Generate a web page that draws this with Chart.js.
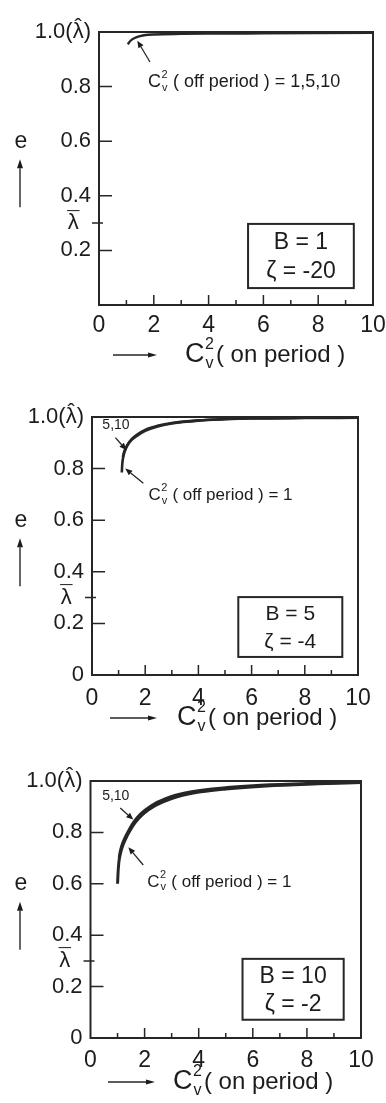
<!DOCTYPE html>
<html>
<head>
<meta charset="utf-8">
<script src="https://cdn.jsdelivr.net/npm/chart.js@4.4.1/dist/chart.umd.min.js"></script>
<style>
  html, body { margin: 0; padding: 0; background: #ffffff; }
  #wrap { position: relative; width: 386px; height: 1103px; overflow: hidden; background: #ffffff; }
  canvas { position: absolute; left: 0; }
</style>
</head>
<body>
<div id="wrap">
  <canvas id="p1" width="386" height="368" style="top:0px"></canvas>
  <canvas id="p2" width="386" height="368" style="top:368px"></canvas>
  <canvas id="p3" width="386" height="368" style="top:735px"></canvas>
</div>
<script>
// ---------- axis ticks ----------
const xTickValues = [0, 2, 4, 6, 8, 10];
const xMinorTickValues = [1, 2, 3, 4, 5, 6, 7, 8, 9];
const lambdaBar = 0.3;   // mean rate, drawn as λ with a bar
const lambdaHat = 1.0;   // peak rate, drawn as λ with a hat
const yTicksFirst = [0.2, 0.3, 0.4, 0.6, 0.8, 1.0];
const yTicksFirstText = ['0.2', 'λ  ', '0.4', '0.6', '0.8', '1.0(λ)'];
const yTicksRest = [0, 0.2, 0.3, 0.4, 0.6, 0.8, 1.0];
const yTicksRestText = ['0', '0.2', 'λ  ', '0.4', '0.6', '0.8', '1.0(λ)'];

// ---------- model parameters ----------
const burstB = [1, 5, 10];
const zetaValues = [-20, -4, -2];

// ---------- efficiency e vs C_v^2 (on period) ----------
// B = 1, zeta = -20 : C_v^2 (off period) = 1, 5, 10 fall on one curve
const b1CvOn = [1.05, 1.15, 1.3, 1.5, 1.7, 2.0, 3.0, 4.0, 6.0, 8.0, 10.0];
const b1Eff  = [0.955, 0.968, 0.978, 0.985, 0.989, 0.991, 0.993, 0.994, 0.995, 0.996, 0.997];

// B = 5, zeta = -4
const b5Off1CvOn   = [1.12, 1.14, 1.18, 1.25, 1.35, 1.5, 1.7, 2.0, 2.5, 3.0, 4.0, 5.0, 6.0, 8.0, 10.0];
const b5Off1Eff    = [0.785, 0.82, 0.848, 0.872, 0.893, 0.912, 0.928, 0.946, 0.964, 0.975, 0.986, 0.991, 0.994, 0.996, 0.997];
const b5Off510CvOn = [1.16, 1.2, 1.27, 1.37, 1.5, 1.7, 2.0, 2.5, 3.0, 4.0, 5.0, 6.0, 8.0, 10.0];
const b5Off510Eff  = [0.845, 0.862, 0.88, 0.898, 0.915, 0.932, 0.95, 0.967, 0.977, 0.987, 0.992, 0.995, 0.997, 0.998];

// B = 10, zeta = -2
const b10Off1CvOn   = [1.0, 1.02, 1.05, 1.1, 1.18, 1.3, 1.45, 1.65, 1.95, 2.4, 3.0, 3.8, 5.0, 6.5, 8.4, 10.0];
const b10Off1Eff    = [0.6, 0.645, 0.685, 0.715, 0.745, 0.775, 0.805, 0.838, 0.872, 0.905, 0.932, 0.953, 0.969, 0.981, 0.989, 0.994];
const b10Off510CvOn = [1.06, 1.1, 1.17, 1.27, 1.4, 1.58, 1.85, 2.25, 2.8, 3.5, 4.5, 6.0, 8.0, 10.0];
const b10Off510Eff  = [0.7, 0.725, 0.752, 0.778, 0.805, 0.837, 0.871, 0.904, 0.932, 0.953, 0.969, 0.982, 0.99, 0.996];

// ---------- styling ----------
const FONT = '"Liberation Sans", Arial, Helvetica, sans-serif';
const INK = '#1c1c1c';
const LINE = '#262626';
const Y_FONT = 22, Y_PAD = 8;

// per-panel layout: plot area in canvas pixels and decorations
const panels = {
  p1: {
    area: { left: 99, top: 32, right: 373, bottom: 305 }, xPad: 7,
    yTicks: yTicksFirst, yText: yTicksFirstText,
    series: [{ x: b1CvOn, y: b1Eff, w: 2.4 }],
    callouts: [
      { cv: true, text: '( off period ) = 1,5,10', at: [1.79, 0.817], size: 18, sub: 11, tail: [1.86, 0.89], tip: [1.4, 0.968] }
    ],
    box: { x0: 5.44, y0: 0.297, x1: 9.3, y1: 0.062, size: 23, lines: ['B = ' + burstB[0], 'ζ = ' + zetaValues[0]] },
    title: { ax0: 113, ax1: 157, cx: 185, y: 355 }
  },
  p2: {
    area: { left: 92, top: 49, right: 358, bottom: 307 }, xPad: 10,
    yTicks: yTicksRest, yText: yTicksRestText,
    series: [{ x: b5Off1CvOn, y: b5Off1Eff, w: 2.6 }, { x: b5Off510CvOn, y: b5Off510Eff, w: 2.6 }],
    callouts: [
      { cv: false, text: '5,10', at: [0.39, 0.968], size: 14, tail: [0.88, 0.92], tip: [1.29, 0.872] },
      { cv: true, text: '( off period ) = 1', at: [2.12, 0.697], size: 17, sub: 11, tail: [1.93, 0.743], tip: [1.25, 0.8] }
    ],
    box: { x0: 5.5, y0: 0.302, x1: 9.41, y1: 0.07, size: 21, lines: ['B = ' + burstB[1], 'ζ = ' + zetaValues[1]] },
    title: { ax0: 110, ax1: 157, cx: 177, y: 350 }
  },
  p3: {
    area: { left: 90.5, top: 46, right: 361, bottom: 303 }, xPad: 9,
    yTicks: yTicksRest, yText: yTicksRestText,
    series: [{ x: b10Off1CvOn, y: b10Off1Eff, w: 3 }, { x: b10Off510CvOn, y: b10Off510Eff, w: 3 }],
    callouts: [
      { cv: false, text: '5,10', at: [0.43, 0.94], size: 14, tail: [1.1, 0.895], tip: [1.58, 0.85] },
      { cv: true, text: '( off period ) = 1', at: [2.1, 0.607], size: 17, sub: 11, tail: [1.95, 0.673], tip: [1.4, 0.742] }
    ],
    box: { x0: 5.62, y0: 0.308, x1: 9.36, y1: 0.071, size: 23, lines: ['B = ' + burstB[2], 'ζ = ' + zetaValues[2]] },
    title: { ax0: 108, ax1: 155, cx: 173, y: 347 }
  }
};

// "C" with superscript 2 and subscript v; returns the x where following text starts
function drawCv(ctx, x, ym, size, sub) {
  ctx.textAlign = 'left';
  ctx.textBaseline = 'middle';
  ctx.font = size + 'px ' + FONT;
  ctx.fillText('C', x, ym);
  const cw = ctx.measureText('C').width;
  ctx.font = sub + 'px ' + FONT;
  ctx.fillText('2', x + cw + 0.5, ym - size * 0.4);
  ctx.fillText('v', x + cw + 1, ym + size * 0.32);
  return x + cw + 0.5 + ctx.measureText('2').width;
}

function arrow(ctx, x0, y0, x1, y1, head, width) {
  const ang = Math.atan2(y1 - y0, x1 - x0);
  const bx = x1 - head * Math.cos(ang), by = y1 - head * Math.sin(ang);
  ctx.beginPath();
  ctx.moveTo(x0, y0);
  ctx.lineTo(bx, by);
  ctx.stroke();
  ctx.beginPath();
  ctx.moveTo(x1, y1);
  ctx.lineTo(bx + width * Math.sin(ang), by - width * Math.cos(ang));
  ctx.lineTo(bx - width * Math.sin(ang), by + width * Math.cos(ang));
  ctx.closePath();
  ctx.fill();
}

const panelDecor = {
  id: 'panelDecor',
  afterDraw(chart) {
    const d = panels[chart.canvas.id];
    const { ctx, chartArea: a } = chart;
    const xs = chart.scales.x, ys = chart.scales.y;
    const px = v => xs.getPixelForValue(v), py = v => ys.getPixelForValue(v);
    ctx.save();
    ctx.strokeStyle = LINE;
    ctx.fillStyle = INK;
    ctx.lineCap = 'butt';

    // frame
    ctx.lineWidth = 2;
    ctx.strokeRect(a.left, a.top, a.right - a.left, a.bottom - a.top);

    // inward tick marks
    ctx.lineWidth = 1.5;
    ctx.beginPath();
    xMinorTickValues.forEach(v => {
      const x = px(v), len = v % 2 === 0 ? 10 : 5;
      ctx.moveTo(x, a.bottom);
      ctx.lineTo(x, a.bottom - len);
    });
    d.yTicks.forEach(v => {
      if (v <= 0 || v >= 1) return;
      const y = py(v);
      if (v === lambdaBar) { ctx.moveTo(a.left - 7, y); ctx.lineTo(a.left + 4, y); }
      else { ctx.moveTo(a.left, y); ctx.lineTo(a.left + 13, y); }
    });
    ctx.stroke();

    // accents on the λ tick labels: bar over the mean, hat over the peak
    ctx.font = Y_FONT + 'px ' + FONT;
    ctx.textAlign = 'center';
    ctx.textBaseline = 'middle';
    const lw = ctx.measureText('λ').width;
    const barX = a.left - Y_PAD - ctx.measureText('  ').width - lw / 2;
    ctx.fillText('¯', barX, py(lambdaBar) - Y_FONT * 0.12);
    const hatX = a.left - Y_PAD - ctx.measureText(')').width - lw / 2;
    ctx.fillText('ˆ', hatX, py(lambdaHat) - Y_FONT * 0.2);

    // callouts with arrows
    ctx.lineWidth = 1.3;
    d.callouts.forEach(c => {
      arrow(ctx, px(c.tail[0]), py(c.tail[1]), px(c.tip[0]), py(c.tip[1]), 7, 3);
      let tx = px(c.at[0]);
      const ty = py(c.at[1]);
      if (c.cv) tx = drawCv(ctx, tx, ty, c.size, c.sub) + c.size * 0.3;
      ctx.font = c.size + 'px ' + FONT;
      ctx.textAlign = 'left';
      ctx.textBaseline = 'middle';
      ctx.fillText(c.text, tx, ty);
    });

    // parameter box
    const b = d.box;
    const bx0 = px(b.x0), by0 = py(b.y0), bx1 = px(b.x1), by1 = py(b.y1);
    ctx.lineWidth = 2;
    ctx.strokeRect(bx0, by0, bx1 - bx0, by1 - by0);
    ctx.font = b.size + 'px ' + FONT;
    ctx.textAlign = 'center';
    ctx.textBaseline = 'middle';
    const bh = by1 - by0, bc = (bx0 + bx1) / 2;
    ctx.fillText(b.lines[0], bc, by0 + bh * 0.29);
    ctx.fillText(b.lines[1], bc, by0 + bh * 0.75);

    // y axis title: e with an upward arrow
    const ey = py(0.6);
    ctx.font = '23px ' + FONT;
    ctx.textAlign = 'center';
    ctx.fillText('e', 21, ey);
    ctx.lineWidth = 1.4;
    arrow(ctx, 20, ey + 66, 20, ey + 18, 9, 3);

    // x axis title: arrow and C_v^2 ( on period )
    const t = d.title;
    arrow(ctx, t.ax0, t.y, t.ax1, t.y, 9, 2.6);
    const nx = drawCv(ctx, t.cx, t.y, 27, 16);
    ctx.font = '24px ' + FONT;
    ctx.textAlign = 'left';
    ctx.fillText('( on period )', nx + 2, t.y);

    ctx.restore();
  }
};

function makePanel(id) {
  const d = panels[id];
  const H = 368, W = 386;
  return new Chart(document.getElementById(id), {
    type: 'scatter',
    data: {
      datasets: d.series.map(s => ({
        data: s.x.map((x, i) => ({ x: x, y: s.y[i] })),
        showLine: true,
        borderColor: LINE,
        borderWidth: s.w,
        pointRadius: 0,
        cubicInterpolationMode: 'monotone',
        fill: false
      }))
    },
    options: {
      responsive: false,
      animation: false,
      devicePixelRatio: 1,
      layout: { padding: { left: 0, top: d.area.top, right: W - d.area.right, bottom: 0 } },
      plugins: { legend: { display: false }, tooltip: { enabled: false } },
      scales: {
        x: {
          type: 'linear', min: 0, max: 10,
          grid: { display: false, drawTicks: false },
          border: { display: false },
          ticks: { padding: d.xPad, color: INK, font: { family: FONT, size: 23 }, maxRotation: 0, autoSkip: false },
          afterBuildTicks: s => { s.ticks = xTickValues.map(v => ({ value: v })); },
          afterFit: s => { s.height = H - d.area.bottom; s.paddingLeft = 0; s.paddingRight = 0; }
        },
        y: {
          type: 'linear', min: 0, max: 1,
          grid: { display: false, drawTicks: false },
          border: { display: false },
          ticks: {
            padding: Y_PAD, color: INK, font: { family: FONT, size: Y_FONT }, autoSkip: false,
            callback: v => { const i = d.yTicks.indexOf(v); return i >= 0 ? d.yText[i] : ''; }
          },
          afterBuildTicks: s => { s.ticks = d.yTicks.map(v => ({ value: v })); },
          afterFit: s => { s.width = d.area.left; s.paddingTop = 0; s.paddingBottom = 0; }
        }
      }
    },
    plugins: [panelDecor]
  });
}

makePanel('p1');
makePanel('p2');
makePanel('p3');
</script>
</body>
</html>
